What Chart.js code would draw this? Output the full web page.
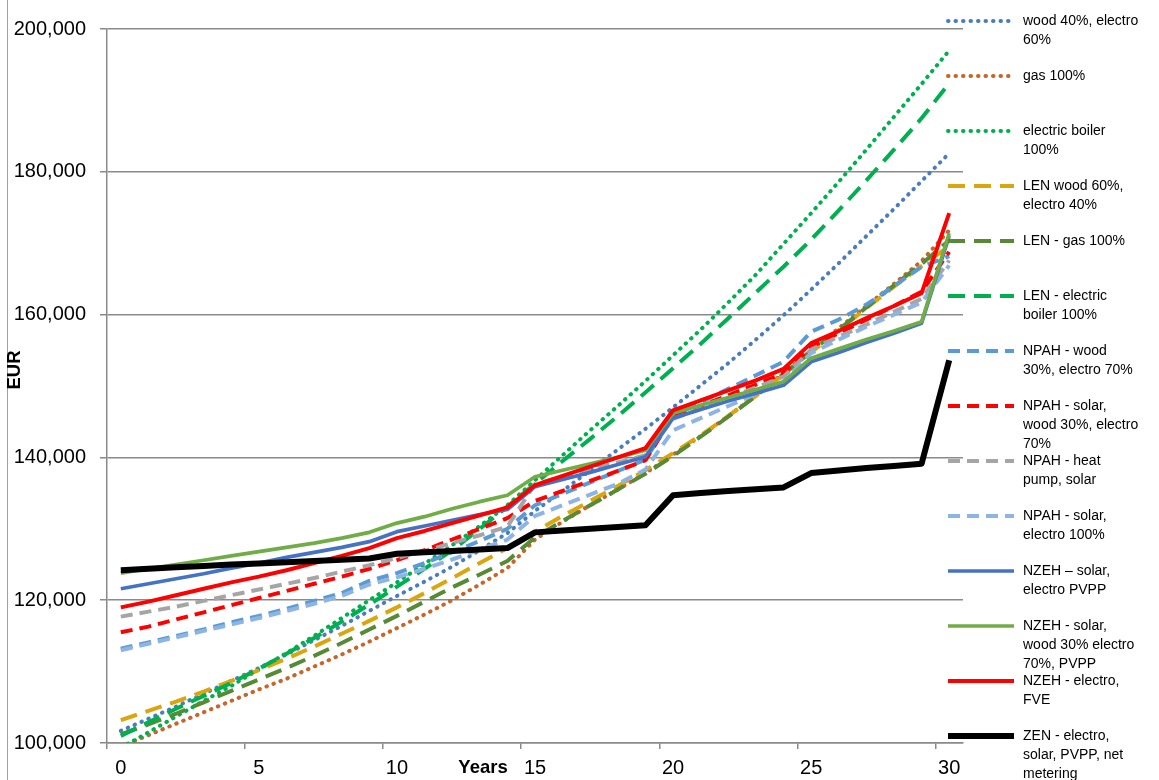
<!DOCTYPE html>
<html><head><meta charset="utf-8">
<script src="https://cdn.jsdelivr.net/npm/chart.js@4.4.1/dist/chart.umd.min.js"></script>
<style>html,body{margin:0;padding:0;background:#fff}canvas{display:block}</style>
</head><body>
<canvas id="c" width="1159" height="780"></canvas>
<script>
const years = [0,1,2,3,4,5,6,7,8,9,10,11,12,13,14,15,16,17,18,19,20,21,22,23,24,25,26,27,28,29,30];
const yTicks = [100000,120000,140000,160000,180000,200000];

const wood40Electro60 = [101700,103400,105100,106900,108700,110500,112400,114400,116400,118500,120600,122600,124700,127000,129400,132500,135300,138200,141100,144000,147000,150100,153200,156500,159900,163500,167200,171000,174800,178700,182600];
const gas100 = [99500,101100,102700,104300,105900,107500,109000,110700,112400,114200,116100,118000,120000,122200,124500,128500,131000,133300,135500,137800,140400,143000,145800,148700,151800,155000,158100,161200,164300,167500,171800];
const electricBoiler100 = [99300,101500,103700,105900,108000,110300,112600,115000,117500,120000,122500,125100,127700,130400,133300,136800,140300,143800,147200,150700,154300,157900,161700,165600,169900,174200,178600,183100,187700,192300,197000];
const lenWood60 = [103200,104500,105800,107200,108700,110200,111800,113500,115300,117100,119000,121000,123100,125200,127300,129600,131800,133900,136000,138200,140600,143100,145800,148600,151600,154700,157800,160900,163900,166800,169600];
const lenGas100 = [101200,102600,104100,105700,107300,108900,110500,112200,114000,115900,117800,119800,121800,123600,125500,128800,131100,133300,135500,137700,140200,142900,145700,148600,151700,154800,157900,161000,164100,167100,170400];
const lenElectric100 = [101000,102900,104800,106600,108400,110400,112500,114700,117000,119400,121900,124400,127000,130000,133100,136300,139500,142600,145800,149100,152500,155900,159500,163100,166700,170500,174600,178800,183100,187500,192400];
const npahWood30 = [113200,114100,115000,115900,116900,117800,118800,119900,121000,122700,123800,125200,126700,128300,130000,133300,134900,136500,138100,139700,145800,147700,149600,151500,153400,157600,159300,161400,164000,166700,168200];
const npahSolarWood30 = [115500,116300,117300,118300,119300,120300,121300,122300,123300,124400,125600,127000,128500,130000,131500,133900,135300,136700,138100,139600,145800,147200,148700,150200,151800,155500,157400,159300,161200,163200,168800];
const npahHeatPump = [117700,118400,119100,119900,120700,121500,122300,123100,124000,124900,125900,126900,128000,129100,130300,136300,137300,138300,139300,140300,145400,146800,148300,149800,151300,155100,156900,158600,160400,162200,167600];
const npahSolarElectro = [113000,113900,114800,115700,116600,117500,118500,119500,120600,122200,123200,124400,125700,127100,128500,131800,133300,134800,136300,138300,143800,145500,147200,148900,150600,154600,156500,158300,160000,161700,166900];
const nzehSolarElectro = [121600,122300,123000,123700,124500,125200,126000,126700,127400,128200,129600,130400,131200,132000,132700,135900,136900,137900,139000,140100,145500,146700,147900,149000,150100,153400,154700,156100,157400,158800,171000];
const nzehSolarWood = [123800,124400,125000,125600,126200,126800,127400,128000,128700,129500,130800,131700,132800,133800,134700,137300,138200,139100,140000,141000,146200,147300,148400,149500,150600,153900,155200,156500,157700,159000,171400];
const nzehElectroFve = [119000,119800,120700,121600,122500,123300,124200,125200,126200,127300,128700,129700,130800,131900,133000,136100,137400,138700,140000,141300,146600,148000,149400,150800,152400,156000,157700,159500,161200,163000,174200];
const zen = [124200,124400,124600,124800,125000,125150,125300,125500,125650,125850,126500,126700,126900,127100,127300,129500,129750,130000,130250,130500,134700,135000,135300,135550,135800,137800,138150,138500,138800,139100,153600];

const seriesLabels = [
  ['wood 40%, electro','60%'],
  ['gas 100%'],
  ['electric boiler','100%'],
  ['LEN wood 60%,','electro 40%'],
  ['LEN - gas 100%'],
  ['LEN - electric','boiler 100%'],
  ['NPAH - wood','30%, electro 70%'],
  ['NPAH - solar,','wood 30%, electro','70%'],
  ['NPAH - heat','pump, solar'],
  ['NPAH - solar,','electro 100%'],
  ['NZEH \u2013 solar,','electro PVPP'],
  ['NZEH - solar,','wood 30% electro','70%, PVPP'],
  ['NZEH - electro,','FVE'],
  ['ZEN - electro,','solar, PVPP, net','metering']
];
const seriesValues = [wood40Electro60, gas100, electricBoiler100, lenWood60, lenGas100, lenElectric100,
  npahWood30, npahSolarWood30, npahHeatPump, npahSolarElectro, nzehSolarElectro, nzehSolarWood, nzehElectroFve, zen];

const FONT = '"Liberation Sans", Arial, sans-serif';
const DOT = {dash:[0.5,7], cap:'round', w:4};
const LONG = {dash:[17,9], cap:'butt', w:4};
const SHORT = {dash:[12,7], cap:'butt', w:4};
const SOLID = {dash:[], cap:'butt', w:3.7};
const styles = [
  ['#4A7EBB', DOT], ['#C5662A', DOT], ['#00B050', DOT],
  ['#DBA50F', LONG], ['#568A35', LONG], ['#00B050', LONG],
  ['#5B9BD5', SHORT], ['#FF0000', SHORT], ['#A5A5A5', SHORT], ['#8EB4E3', SHORT],
  ['#4472C4', SOLID], ['#70AD47', SOLID], ['#FF0000', {dash:[], cap:'butt', w:4}], ['#000000', {dash:[], cap:'butt', w:6}]
];

const datasets = seriesValues.map((vals, i) => ({
  label: seriesLabels[i].join(' '),
  data: vals,
  borderColor: styles[i][0],
  backgroundColor: styles[i][0],
  borderWidth: styles[i][1].w,
  borderDash: styles[i][1].dash,
  borderCapStyle: styles[i][1].cap,
  borderJoinStyle: 'round',
  pointRadius: 0,
  pointHoverRadius: 0,
  tension: 0,
  fill: false,
  clip: 0,
  order: seriesValues.length - i
}));

const GRID = '#8a8a8a';

const overlay = {
  id: 'overlay',
  afterDraw(chart) {
    const ctx = chart.ctx;
    ctx.save();
    ctx.strokeStyle = '#a0a0a0';
    ctx.lineWidth = 1;
    ctx.beginPath(); ctx.moveTo(7.5, 0); ctx.lineTo(7.5, 780); ctx.stroke();
    ctx.fillStyle = '#000';
    ctx.font = 'bold 18.5px ' + FONT;
    ctx.textAlign = 'center'; ctx.textBaseline = 'middle';
    ctx.fillText('Years', 483, 768);
    ctx.translate(15, 370); ctx.rotate(-Math.PI / 2);
    ctx.fillText('EUR', 0, 0);
    ctx.restore();

    chart.data.datasets.forEach((ds, i) => {
      const y0 = 21 + 55.0 * i;
      ctx.save();
      ctx.strokeStyle = ds.borderColor;
      ctx.lineWidth = ds.borderWidth;
      ctx.setLineDash(ds.borderDash);
      ctx.lineCap = ds.borderCapStyle;
      ctx.beginPath(); ctx.moveTo(948, y0); ctx.lineTo(1014, y0); ctx.stroke();
      ctx.restore();
      ctx.save();
      ctx.fillStyle = '#000';
      ctx.font = '14px ' + FONT;
      ctx.textAlign = 'left'; ctx.textBaseline = 'middle';
      seriesLabels[i].forEach((t, k) => ctx.fillText(t, 1023, y0 + 19 * k));
      ctx.restore();
    });
  }
};

new Chart(document.getElementById('c'), {
  type: 'line',
  data: { labels: years.map(String), datasets },
  options: {
    responsive: false,
    animation: false,
    devicePixelRatio: 1,
    layout: { padding: { left: 0, right: 196, top: 29, bottom: 0 } },
    plugins: { legend: { display: false }, tooltip: { enabled: false } },
    scales: {
      x: {
        type: 'category',
        offset: true,
        grid: {
          offset: true,
          drawOnChartArea: false,
          drawTicks: true,
          tickLength: 6,
          lineWidth: 1.5,
          color: (c) => (c.index % 5 === 0 ? GRID : 'rgba(0,0,0,0)')
        },
        border: { display: true, color: GRID, width: 1.5 },
        ticks: {
          autoSkip: false, maxRotation: 0, minRotation: 0, padding: 7,
          color: '#000', font: { family: FONT, size: 20 },
          callback: function (v, idx) { return idx % 5 === 0 ? this.getLabelForValue(v) : ''; }
        },
        afterFit: (s) => { s.height = 37; }
      },
      y: {
        type: 'linear',
        min: yTicks[0], max: yTicks[yTicks.length - 1],
        afterBuildTicks: (s) => { s.ticks = yTicks.map(v => ({ value: v })); },
        grid: { color: GRID, lineWidth: 1.5, tickLength: 7, drawTicks: true },
        border: { display: true, color: GRID, width: 1.5 },
        ticks: {
          padding: 14, color: '#000', font: { family: FONT, size: 20 },
          callback: (v) => Number(v).toLocaleString('en-US')
        },
        afterFit: (s) => { s.width = 107; }
      }
    }
  },
  plugins: [overlay]
});
</script>
</body></html>
